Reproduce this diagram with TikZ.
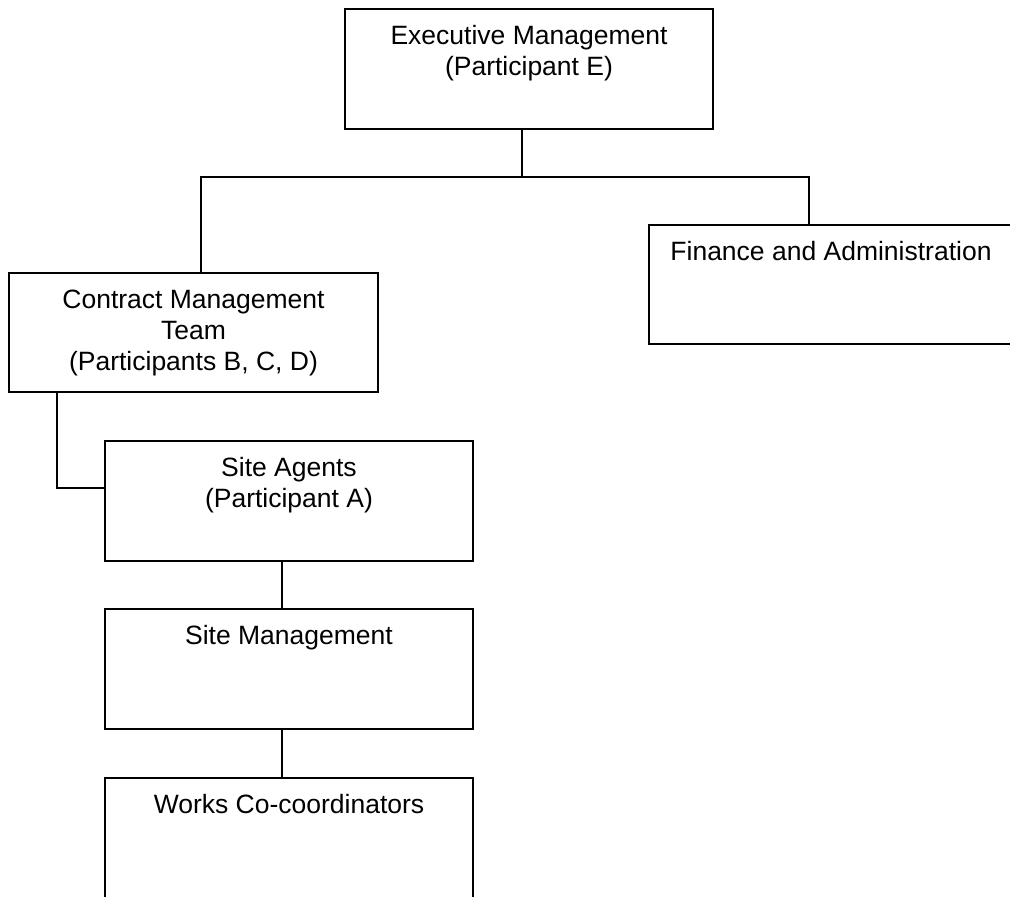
\documentclass[tikz,border=0pt]{standalone}
\usepackage{fontspec}
\setmainfont{Liberation Sans}
\begin{document}
\begin{tikzpicture}[x=1pt,y=-1pt,
  orgbox/.style={draw, line width=2.2pt, outer sep=0pt, inner sep=0pt,
    minimum width=#1, minimum height=120pt},
  orgbox/.default=368pt,
  boxtext/.style={anchor=base, yshift={-35pt-#1*31pt}, align=center, inner sep=0pt,
    font=\fontsize{26.5}{31}\selectfont},
  boxtext/.default=0,
  link/.style={draw, line width=1.7pt}]
\useasboundingbox (0,0) rectangle (1010,897);

\node[orgbox, label={[boxtext=1]north:Executive Management\\(Participant E)}]
  (exec) at (529,69) {};
\node[orgbox=369pt, minimum height=119pt,
  label={[boxtext=2]north:Contract Management\\Team\\(Participants B, C, D)}]
  (contract) at (193.5,332.5) {};
\node[orgbox=364pt, minimum height=119pt,
  label={[boxtext]north:Finance and Administration}]
  (finance) at (831,284.5) {};
\node[orgbox, label={[boxtext=1]north:Site Agents\\(Participant A)}]
  (agents) at (289,501) {};
\node[orgbox, label={[boxtext]north:Site Management}]
  (sitemgmt) at (289,669) {};
\node[orgbox, label={[boxtext]north:Works Co-coordinators}]
  (works) at (289,838) {};

\coordinate (bus) at (522,177);
\path[link] ([xshift=-7pt]exec.south) -- (bus);
\path[link] ([xshift=7.5pt]contract.north) |- (bus) -| ([xshift=-22pt]finance.north);
\path[link] ([xshift=-136.5pt]contract.south) |- ([yshift=13pt]agents.west);
\path[link] ([xshift=-7pt]agents.south) -- ([xshift=-7pt]sitemgmt.north);
\path[link] ([xshift=-7pt]sitemgmt.south) -- ([xshift=-7pt]works.north);
\end{tikzpicture}
\end{document}
